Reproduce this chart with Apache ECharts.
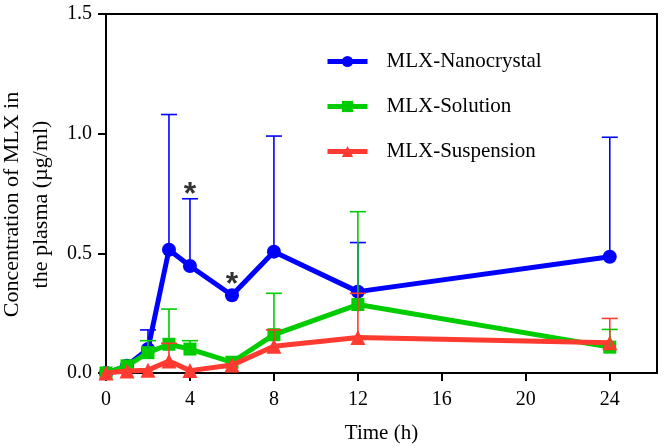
<!DOCTYPE html>
<html>
<head>
<meta charset="utf-8">
<script src="https://cdn.jsdelivr.net/npm/echarts@6/dist/echarts.min.js"></script>
<style>
html,body{margin:0;padding:0;background:#fff;}
#chart{width:667px;height:448px;}
</style>
</head>
<body>
<div id="chart"></div>
<script>
// ---- data ----
const times = [0, 1, 2, 3, 4, 6, 8, 12, 24];
const nanoMean = [0, 0.03, 0.10, 0.515, 0.447, 0.325, 0.507, 0.34, 0.486];
const nanoUpper = [null, null, 0.18, 1.08, 0.728, null, 0.99, 0.545, 0.985];
const solMean = [0, 0.03, 0.085, 0.12, 0.10, 0.045, 0.16, 0.286, 0.108];
const solUpper = [null, null, 0.135, 0.267, 0.135, null, 0.333, 0.674, 0.182];
const susMean = [0, 0.008, 0.012, 0.05, 0.01, 0.033, 0.112, 0.148, 0.126];
const susUpper = [null, null, null, 0.124, null, null, 0.18, 0.333, 0.228];
const seriesNames = ['MLX-Nanocrystal', 'MLX-Solution', 'MLX-Suspension'];
const starTimes = [4, 6];
const starValues = [0.773, 0.397];
const xTicks = [0, 4, 8, 12, 16, 20, 24];
const yTicks = [0, 0.5, 1.0, 1.5];

const colors = ['#0000FF', '#00CC00', '#FF3A30'];
const symbols = ['circle', 'rect', 'triangle'];
const symbolSizes = [14, 13, 15];
const FONT = '"Liberation Serif", "Times New Roman", serif';

function pairs(mean) { return times.map((t, i) => [t, mean[i]]); }
function errData(mean, upper) {
  const out = [];
  times.forEach((t, i) => { if (upper[i] != null) out.push([t, mean[i], upper[i]]); });
  return out;
}

function errorSeries(mean, upper, color, z) {
  return {
    type: 'custom',
    name: 'err' + z,
    z: z,
    silent: true,
    clip: false,
    encode: { x: 0, y: [1, 2] },
    data: errData(mean, upper),
    renderItem: function (params, api) {
      const p0 = api.coord([api.value(0), api.value(1)]);
      const p1 = api.coord([api.value(0), api.value(2)]);
      const hw = 8;
      return {
        type: 'group',
        children: [
          { type: 'line', shape: { x1: p0[0], y1: p0[1], x2: p1[0], y2: p1[1] }, style: { stroke: color, lineWidth: 1.6 } },
          { type: 'line', shape: { x1: p1[0] - hw, y1: p1[1], x2: p1[0] + hw, y2: p1[1] }, style: { stroke: color, lineWidth: 1.6 } }
        ]
      };
    }
  };
}

const means = [nanoMean, solMean, susMean];
const uppers = [nanoUpper, solUpper, susUpper];

const series = [];
means.forEach((m, k) => {
  series.push({
    type: 'line',
    name: seriesNames[k],
    data: pairs(m),
    z: 2 + k,
    clip: false,
    symbol: symbols[k],
    symbolSize: symbolSizes[k],
    showAllSymbol: true,
    color: colors[k],
    lineStyle: { width: 5, color: colors[k] },
    itemStyle: { color: colors[k] }
  });
});
means.forEach((m, k) => {
  series.push(errorSeries(m, uppers[k], colors[k], 10 + k));
});
series.push({
  type: 'scatter',
  name: 'sig',
  z: 20,
  silent: true,
  symbolSize: 0,
  data: starTimes.map((t, i) => [t, starValues[i]]),
  label: {
    show: true,
    formatter: '*',
    position: 'inside',
    offset: [0, 7],
    color: '#000',
    fontFamily: '"Liberation Sans", Arial, sans-serif',
    fontWeight: 'bold',
    fontSize: 32
  }
});

const chart = echarts.init(document.getElementById('chart'), null, { renderer: 'canvas' });
chart.setOption({
  animation: false,
  backgroundColor: '#fff',
  grid: {
    left: 106, right: 10, top: 14, bottom: 75,
    outerBoundsMode: 'none',
    containLabel: false,
    show: true, borderColor: '#000', borderWidth: 2, backgroundColor: 'transparent'
  },
  legend: {
    data: seriesNames,
    orient: 'vertical',
    left: 325,
    top: 51,
    padding: 0,
    itemWidth: 40,
    itemHeight: 14,
    itemGap: 24,
    lineStyle: { width: 5 },
    textStyle: { fontFamily: FONT, fontSize: 21, color: '#000', padding: [0, 0, 0, 14] }
  },
  xAxis: {
    type: 'value',
    min: 0,
    max: 26.25,
    interval: 4,
    name: 'Time (h)',
    nameLocation: 'middle',
    nameGap: 50,
    nameTextStyle: { fontFamily: FONT, fontSize: 21, color: '#000' },
    splitLine: { show: false },
    axisLine: { show: true, lineStyle: { color: '#000', width: 2 } },
    axisTick: { show: true, inside: false, length: 8, lineStyle: { color: '#000', width: 2 }, customValues: xTicks },
    axisLabel: { fontFamily: FONT, fontSize: 20, color: '#000', margin: 17, customValues: xTicks }
  },
  yAxis: {
    type: 'value',
    min: 0,
    max: 1.5,
    interval: 0.5,
    name: 'Concentration of MLX in\nthe plasma (µg/ml)',
    nameLocation: 'middle',
    nameRotate: 90,
    nameGap: 43,
    nameTextStyle: { fontFamily: FONT, fontSize: 22, color: '#000', lineHeight: 29, padding: [0, 22, 0, 0] },
    splitLine: { show: false },
    axisLine: { show: true, lineStyle: { color: '#000', width: 2 } },
    axisTick: { show: true, inside: false, length: 8, lineStyle: { color: '#000', width: 2 }, customValues: yTicks },
    axisLabel: {
      fontFamily: FONT, fontSize: 20, color: '#000', margin: 14, customValues: yTicks,
      formatter: v => v.toFixed(1)
    }
  },
  series: series
});
</script>
</body>
</html>
